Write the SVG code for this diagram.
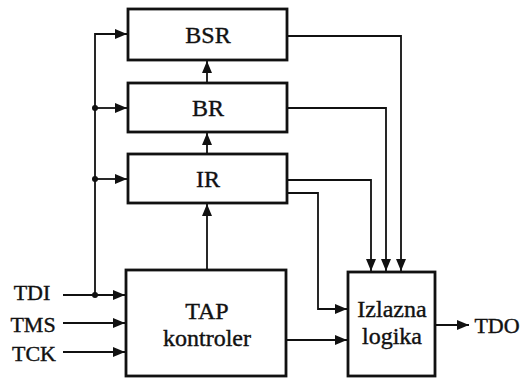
<svg xmlns="http://www.w3.org/2000/svg" width="523" height="378" viewBox="0 0 523 378">
<style>
.box{fill:#fff;stroke:#111;stroke-width:2.8}
.w{fill:none;stroke:#111;stroke-width:1.8}
text{font-family:'Liberation Serif','DejaVu Serif','Times New Roman',serif;fill:#111;text-anchor:middle;stroke:#111;stroke-width:0.4}
.bl{font-size:24px}
.pl{font-size:22px}
.dot{fill:#111}
</style>
<defs>
<marker id="ah" viewBox="0 0 12 10" refX="12" refY="5" markerWidth="12" markerHeight="10" markerUnits="userSpaceOnUse" orient="auto">
<path d="M0,0 L12,5 L0,10 Z" fill="#111"/>
</marker>
</defs>
<rect width="523" height="378" fill="#fff"/>
<g id="connectors">
<path class="w" d="M95,295 V34 H127" marker-end="url(#ah)"/>
<path class="w" d="M95,108 H127" marker-end="url(#ah)"/>
<path class="w" d="M95,179 H127" marker-end="url(#ah)"/>
<path class="w" d="M63,295 H125" marker-end="url(#ah)"/>
<path class="w" d="M63,323 H125" marker-end="url(#ah)"/>
<path class="w" d="M63,352 H125" marker-end="url(#ah)"/>
<path class="w" d="M207,270 V204" marker-end="url(#ah)"/>
<path class="w" d="M207,154 V133" marker-end="url(#ah)"/>
<path class="w" d="M207,83 V61" marker-end="url(#ah)"/>
<path class="w" d="M287,36 H401 V271" marker-end="url(#ah)"/>
<path class="w" d="M287,108 H386 V271" marker-end="url(#ah)"/>
<path class="w" d="M287,180 H371 V271" marker-end="url(#ah)"/>
<path class="w" d="M287,193 H318 V309 H347" marker-end="url(#ah)"/>
<path class="w" d="M286,340 H347" marker-end="url(#ah)"/>
<path class="w" d="M435,325 H469" marker-end="url(#ah)"/>
<circle class="dot" cx="95" cy="108" r="3"/>
<circle class="dot" cx="95" cy="179" r="3"/>
<circle class="dot" cx="95" cy="295" r="3"/>
</g>
<g id="BSR"><rect class="box" x="128" y="9" width="159" height="51"/><text class="bl" x="208" y="43">BSR</text></g>
<g id="BR"><rect class="box" x="128" y="83" width="159" height="49"/><text class="bl" x="208" y="116">BR</text></g>
<g id="IR"><rect class="box" x="128" y="154" width="159" height="49"/><text class="bl" x="208" y="187">IR</text></g>
<g id="TAP"><rect class="box" x="126" y="270" width="160" height="106"/><text class="bl" x="207" y="319">TAP</text><text class="bl" x="207" y="346">kontroler</text></g>
<g id="Izlazna"><rect class="box" x="348" y="272" width="87" height="104"/><text class="bl" x="392" y="317">Izlazna</text><text class="bl" x="392" y="344">logika</text></g>
<g id="TDI"><text class="pl" x="32" y="300">TDI</text></g>
<g id="TMS"><text class="pl" x="33" y="332">TMS</text></g>
<g id="TCK"><text class="pl" x="34" y="361">TCK</text></g>
<g id="TDO"><text class="pl" x="497" y="333">TDO</text></g>
</svg>
